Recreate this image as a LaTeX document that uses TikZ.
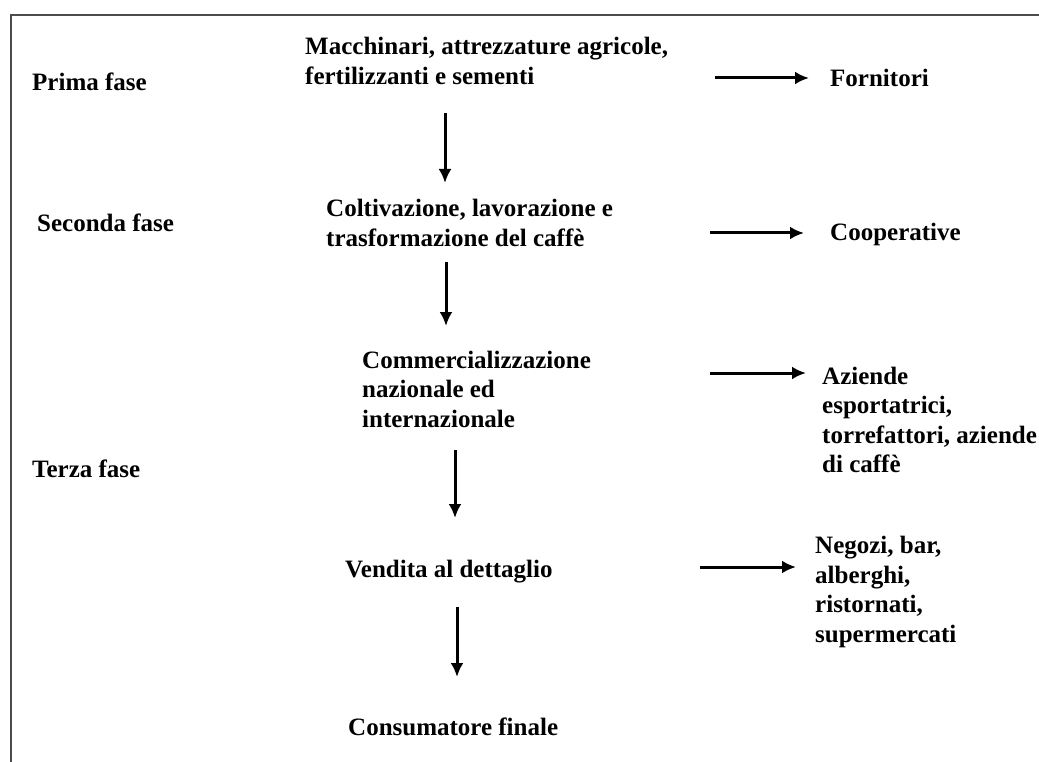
\documentclass[tikz,border=0pt]{standalone}
\usepackage{fontspec}
\setmainfont{Liberation Serif}
\usetikzlibrary{arrows.meta,positioning}
\tikzset{
    txtsty/.style={font=\bfseries\fontsize{25}{29.5}\selectfont,align=left,anchor=west,inner sep=0pt},
    arrsty/.style={-{Latex[length=14pt,width=13pt]},line width=3pt},
    framesty/.style={draw=black!70,line width=2pt},
}

\begin{document}
\begin{tikzpicture}[x=1pt,y=-1pt]
\useasboundingbox (0,0) rectangle (1039,762);
\draw[framesty] (1039,15) -- (11,15) -- (11,762);

% phases
\node[txtsty] (prima)   at (32,82)  {Prima fase};
\node[txtsty] (seconda) at (37,223) {Seconda fase};
\node[txtsty] (terza)   at (32,469) {Terza fase};

% chain
\node[txtsty] (macch) at (305,61)  {Macchinari, attrezzature agricole,\\fertilizzanti e sementi};
\node[txtsty] (colt)  at (326,223) {Coltivazione, lavorazione e\\trasformazione del caffè};
\node[txtsty] (comm)  at (362,389) {Commercializzazione\\nazionale ed\\internazionale};
\node[txtsty] (vend)  at (345,572) {Vendita al dettaglio};
\node[txtsty] (cons)  at (348,727) {Consumatore finale};

% actors
\node[txtsty] (forn) at (830,78)  {Fornitori};
\node[txtsty] (coop) at (830,234) {Cooperative};
\node[txtsty] (az)   at (822,420) {Aziende\\esportatrici,\\torrefattori, aziende\\di caffè};
\node[txtsty] (neg)  at (815,592) {Negozi, bar,\\alberghi,\\ristornati,\\supermercati};

% arrow ends
\coordinate (d1s) at (445,113); \coordinate (d1e) at (445,183);
\coordinate (d2s) at (446,262); \coordinate (d2e) at (446,326);
\coordinate (d3s) at (455,450); \coordinate (d3e) at (455,518);
\coordinate (d4s) at (457,607); \coordinate (d4e) at (457,677);
\coordinate (r1s) at (715,78);  \coordinate (r1e) at (809,78);
\coordinate (r2s) at (710,233); \coordinate (r2e) at (804,233);
\coordinate (r3s) at (710,373); \coordinate (r3e) at (806,373);
\coordinate (r4s) at (700,567); \coordinate (r4e) at (796,567);

\draw[arrsty] (d1s) -- (d1e);
\draw[arrsty] (d2s) -- (d2e);
\draw[arrsty] (d3s) -- (d3e);
\draw[arrsty] (d4s) -- (d4e);
\draw[arrsty] (r1s) -- (r1e);
\draw[arrsty] (r2s) -- (r2e);
\draw[arrsty] (r3s) -- (r3e);
\draw[arrsty] (r4s) -- (r4e);
\end{tikzpicture}
\end{document}
